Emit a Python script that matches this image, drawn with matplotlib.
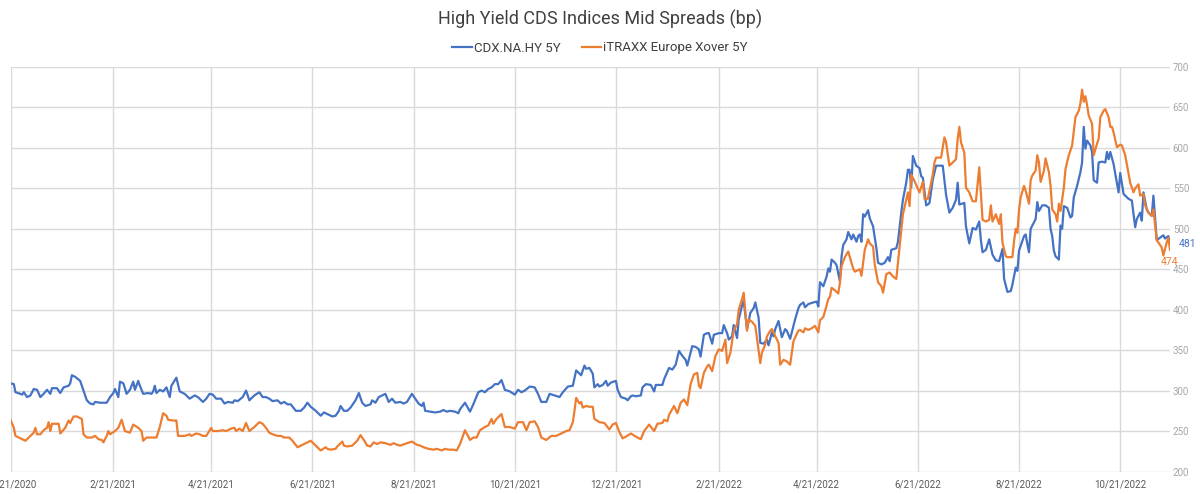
import matplotlib
matplotlib.use("Agg")
import matplotlib.pyplot as plt
import pandas as pd

# dias contados a partir de 21/12/2020
data_inicio = "2020-12-21"

dias_cdx = [
    0, 2, 3, 6, 7, 8, 10, 12, 14, 16, 18, 20, 22, 24, 25, 28, 30, 32, 35, 36, 37, 39, 42, 44, 46, 48, 50, 51, 54, 58,
    60, 62, 63, 65, 66, 68, 70, 72, 74, 75, 77, 78, 80, 83, 85, 86, 87, 88, 90, 92, 94, 96, 97, 100, 102, 105, 108, 111, 113, 116,
    118, 120, 122, 124, 127, 129, 131, 134, 135, 137, 140, 142, 144, 147, 150, 152, 154, 156, 158, 161, 163, 165, 167, 169, 172, 175, 177, 179, 181, 184,
    187, 189, 191, 194, 196, 198, 199, 201, 203, 205, 208, 210, 212, 214, 217, 218, 220, 222, 224, 226, 228, 230, 232, 235, 237, 239, 242, 244, 246, 248,
    249, 250, 253, 256, 259, 261, 263, 265, 268, 270, 271, 274, 277, 279, 282, 284, 286, 288, 290, 292, 294, 296, 298, 301, 304, 306, 308, 310, 313, 316,
    318, 320, 323, 325, 328, 331, 333, 336, 339, 341, 343, 344, 346, 347, 349, 351, 352, 354, 355, 357, 359, 360, 362, 365, 366, 368, 371, 372, 374, 375,
    377, 380, 381, 383, 386, 388, 389, 393, 394, 397, 399, 401, 403, 405, 407, 408, 411, 413, 415, 416, 418, 420, 421, 423, 424, 427, 429, 430, 432, 433,
    435, 436, 438, 439, 441, 442, 444, 446, 448, 449, 451, 452, 454, 456, 457, 459, 460, 461, 463, 465, 467, 468, 470, 472, 473, 475, 476, 478, 479, 481,
    484, 486, 487, 488, 490, 492, 493, 494, 495, 497, 498, 500, 501, 502, 504, 505, 507, 508, 510, 511, 512, 513, 514, 515, 517, 518, 520, 522, 523, 525,
    527, 529, 530, 531, 534, 535, 537, 538, 540, 541, 542, 543, 544, 546, 548, 549, 550, 552, 553, 554, 556, 558, 560, 562, 564, 566, 568, 570, 571, 572,
    575, 576, 578, 580, 582, 584, 585, 586, 588, 590, 592, 594, 596, 598, 599, 601, 603, 604, 606, 607, 608, 609, 611, 612, 613, 614, 615, 616, 618, 619,
    620, 622, 624, 626, 627, 628, 629, 630, 632, 633, 634, 635, 637, 639, 640, 641, 643, 645, 646, 647, 648, 649, 651, 652, 653, 655, 656, 658, 660, 661,
    662, 663, 665, 666, 668, 669, 671, 672, 674, 676, 678, 679, 681, 682, 683, 685, 686, 688, 689, 691, 693, 695, 696, 698, 699,
]
valores_cdx = [
    309, 308, 298, 296, 295, 298, 292, 294, 302, 301, 292, 296, 301, 296, 303, 303, 297, 304, 306, 309, 319, 317, 312, 300, 288, 284, 283, 286, 285, 285,
    292, 297, 302, 292, 311, 309, 296, 301, 311, 301, 312, 306, 296, 297, 296, 299, 306, 297, 301, 299, 304, 292, 306, 316, 299, 296, 290, 294, 292, 286,
    290, 296, 295, 290, 290, 284, 286, 285, 288, 287, 292, 300, 288, 294, 298, 292, 292, 290, 287, 288, 284, 286, 283, 283, 275, 275, 279, 285, 280, 275,
    269, 273, 271, 268, 269, 275, 281, 275, 275, 279, 288, 297, 285, 281, 283, 288, 285, 292, 294, 296, 286, 290, 285, 286, 284, 286, 296, 290, 284, 281,
    285, 275, 274, 273, 274, 276, 274, 275, 274, 272, 277, 285, 274, 283, 298, 300, 298, 302, 304, 308, 308, 313, 301, 299, 295, 301, 298, 300, 305, 304,
    296, 286, 286, 296, 294, 292, 298, 305, 306, 325, 321, 319, 331, 327, 328, 321, 304, 308, 305, 307, 312, 306, 310, 312, 301, 292, 290, 288, 293, 294,
    293, 294, 304, 308, 307, 299, 307, 307, 314, 328, 326, 332, 349, 343, 338, 331, 355, 354, 351, 342, 369, 371, 371, 358, 369, 371, 371, 381, 371, 363,
    367, 381, 365, 388, 405, 411, 376, 396, 402, 409, 390, 359, 358, 363, 356, 372, 367, 376, 386, 366, 376, 374, 364, 380, 388, 402, 406, 409, 403, 407,
    409, 410, 404, 434, 429, 441, 451, 447, 462, 458, 455, 435, 466, 480, 487, 496, 487, 493, 484, 491, 493, 484, 518, 515, 523, 513, 503, 476, 458, 456,
    458, 465, 460, 474, 476, 484, 520, 536, 557, 573, 573, 551, 590, 578, 575, 565, 563, 529, 530, 532, 561, 578, 578, 578, 542, 520, 526, 536, 557, 530,
    532, 503, 482, 501, 499, 509, 486, 471, 474, 487, 468, 461, 460, 475, 438, 422, 423, 431, 452, 448, 473, 479, 491, 493, 481, 471, 500, 504, 512, 533,
    522, 529, 529, 526, 500, 491, 473, 466, 462, 504, 500, 528, 526, 514, 516, 539, 553, 570, 582, 626, 599, 609, 603, 595, 560, 557, 582, 583, 582, 595,
    586, 595, 580, 568, 545, 569, 543, 541, 537, 535, 502, 512, 520, 510, 545, 524, 520, 516, 541, 486, 489, 492, 488, 491, 481,
]

dias_itraxx = [
    0, 2, 3, 5, 9, 12, 14, 15, 16, 18, 20, 22, 23, 24, 25, 29, 30, 33, 35, 36, 38, 40, 43, 44, 46, 49, 51, 53, 55, 56,
    58, 59, 60, 63, 65, 67, 69, 72, 74, 77, 79, 80, 82, 85, 88, 90, 92, 94, 95, 98, 100, 101, 105, 108, 109, 112, 114, 116, 118, 121,
    122, 125, 128, 130, 133, 135, 136, 138, 140, 142, 144, 147, 150, 152, 154, 156, 158, 161, 163, 165, 168, 170, 173, 175, 177, 179, 181, 183, 185, 187,
    190, 191, 193, 196, 197, 200, 201, 203, 206, 209, 211, 213, 215, 217, 219, 221, 223, 226, 229, 231, 233, 235, 239, 242, 245, 247, 249, 252, 255, 257,
    260, 262, 264, 267, 269, 271, 274, 277, 279, 281, 283, 286, 288, 290, 291, 293, 296, 298, 301, 304, 306, 309, 311, 313, 316, 318, 320, 323, 326, 329,
    332, 335, 337, 339, 340, 341, 343, 344, 345, 347, 349, 351, 352, 355, 358, 361, 363, 365, 367, 369, 371, 374, 377, 380, 382, 385, 388, 390, 393, 394,
    396, 397, 400, 402, 404, 406, 408, 410, 412, 414, 415, 416, 418, 420, 421, 423, 425, 427, 429, 431, 432, 434, 436, 438, 439, 441, 442, 444, 445, 447,
    449, 452, 453, 455, 456, 458, 459, 463, 464, 466, 468, 470, 472, 474, 475, 476, 478, 479, 481, 483, 485, 487, 488, 490, 491, 493, 494, 495, 497, 499,
    500, 501, 503, 505, 507, 508, 509, 511, 512, 513, 515, 517, 518, 520, 521, 523, 525, 526, 528, 530, 532, 534, 535, 537, 538, 539, 541, 542, 543, 545,
    546, 548, 550, 551, 553, 556, 557, 558, 561, 563, 564, 566, 568, 570, 571, 572, 573, 575, 576, 578, 580, 582, 584, 586, 588, 590, 591, 592, 594, 596,
    597, 598, 600, 601, 604, 605, 606, 607, 608, 609, 611, 612, 614, 615, 616, 618, 619, 620, 621, 623, 624, 626, 627, 628, 630, 631, 632, 633, 635, 636,
    638, 640, 642, 644, 645, 646, 647, 648, 649, 650, 652, 653, 655, 656, 657, 659, 660, 662, 663, 664, 665, 667, 669, 670, 672, 675, 677, 678, 680, 681,
    683, 684, 686, 688, 689, 691, 692, 694, 695, 697, 698, 699,
]
valores_itraxx = [
    264, 254, 244, 242, 238, 244, 248, 254, 246, 246, 251, 254, 261, 250, 259, 259, 247, 254, 263, 260, 268, 268, 265, 246, 242, 242, 244, 240, 239, 236,
    244, 250, 246, 250, 254, 264, 250, 248, 258, 254, 250, 238, 242, 242, 242, 255, 272, 269, 264, 263, 263, 244, 244, 246, 244, 247, 246, 244, 244, 254,
    250, 250, 251, 250, 253, 254, 250, 253, 250, 260, 250, 255, 261, 259, 254, 248, 246, 244, 244, 242, 242, 238, 230, 232, 234, 236, 238, 234, 230, 226,
    230, 228, 227, 228, 231, 237, 232, 231, 232, 238, 245, 239, 232, 231, 236, 234, 236, 235, 233, 235, 233, 232, 235, 237, 233, 232, 230, 228, 227, 228,
    226, 228, 227, 227, 226, 234, 251, 239, 242, 242, 251, 255, 257, 265, 259, 265, 271, 255, 255, 253, 261, 261, 251, 261, 262, 255, 242, 239, 244, 244,
    247, 250, 251, 261, 275, 291, 284, 286, 279, 281, 280, 280, 265, 261, 260, 252, 258, 260, 249, 241, 243, 247, 243, 240, 250, 258, 250, 259, 260, 264,
    262, 270, 281, 272, 285, 289, 282, 308, 320, 322, 306, 303, 322, 330, 332, 324, 343, 351, 349, 363, 334, 347, 374, 382, 400, 413, 421, 374, 388, 385,
    380, 334, 347, 357, 367, 374, 376, 359, 332, 338, 336, 332, 361, 370, 374, 375, 372, 377, 375, 377, 380, 372, 387, 391, 398, 413, 416, 427, 424, 420,
    433, 454, 465, 472, 458, 451, 447, 449, 450, 442, 474, 487, 482, 478, 456, 434, 429, 421, 444, 446, 441, 438, 458, 499, 518, 527, 545, 528, 567, 559,
    554, 545, 558, 537, 537, 567, 582, 588, 588, 613, 607, 578, 582, 586, 611, 626, 607, 594, 551, 545, 534, 534, 576, 511, 509, 511, 529, 509, 518, 506,
    518, 483, 466, 465, 465, 485, 500, 495, 524, 539, 553, 547, 531, 560, 566, 572, 591, 582, 558, 572, 587, 570, 553, 524, 518, 509, 531, 522, 551, 574,
    591, 603, 638, 646, 655, 672, 657, 664, 653, 640, 630, 591, 605, 611, 638, 646, 648, 638, 626, 626, 619, 601, 604, 603, 591, 557, 545, 550, 555, 541,
    543, 529, 520, 516, 524, 486, 483, 477, 467, 483, 489, 474,
]

datas_ticks = ["2020-12-21", "2021-02-21", "2021-04-21", "2021-06-21", "2021-08-21", "2021-10-21",
               "2021-12-21", "2022-02-21", "2022-04-21", "2022-06-21", "2022-08-21", "2022-10-21"]
ticks_y = [200, 250, 300, 350, 400, 450, 500, 550, 600, 650, 700]

AZUL = "#4472C4"
LARANJA = "#ED7D31"

plt.rcParams["font.family"] = ["Roboto", "DejaVu Sans"]


def para_datas(dias):
    return pd.Timestamp(data_inicio) + pd.to_timedelta(dias, unit="D")


def gerar_grafico():
    x_cdx = para_datas(dias_cdx)
    x_itraxx = para_datas(dias_itraxx)

    fig = plt.figure(figsize=(12, 4.94), dpi=100)
    ax = fig.add_axes([10.5 / 1200, 1 - 471.5 / 494, (1170 - 10.5) / 1200, (471.5 - 67) / 494])

    ax.plot(x_cdx, valores_cdx, color=AZUL, lw=1.6, label="CDX.NA.HY 5Y", zorder=3)
    ax.plot(x_itraxx, valores_itraxx, color=LARANJA, lw=1.6, label="iTRAXX Europe Xover 5Y", zorder=3)

    ax.set_xlim(x_cdx[0], x_cdx[-1])
    ax.set_ylim(200, 700)

    ticks_x = pd.to_datetime(datas_ticks)
    ax.set_xticks(ticks_x)
    ax.set_xticklabels([f"{d.month}/{d.day}/{d.year}" for d in ticks_x])
    ax.set_yticks(ticks_y)
    ax.yaxis.tick_right()

    ax.tick_params(axis="x", length=0, pad=6, labelsize=7, labelcolor="#595959")
    ax.tick_params(axis="y", length=0, pad=2, labelsize=7, labelcolor="#a6a6a6")
    ax.grid(True, color="#d9d9d9", lw=1)
    ax.set_axisbelow(True)
    for lado in ax.spines.values():
        lado.set_visible(False)

    # rotulos do ultimo valor
    ax.annotate(f"{valores_cdx[-1]}", (x_cdx[-1], valores_cdx[-1]), xytext=(6, 0),
                textcoords="offset points", ha="left", va="center", fontsize=7.5, color=AZUL)
    ax.annotate(f"{valores_itraxx[-1]}", (x_itraxx[-1], valores_itraxx[-1]), xytext=(0, -9),
                textcoords="offset points", ha="center", va="center", fontsize=7.5, color=LARANJA)

    fig.text(0.5, 1 - 19 / 494, "High Yield CDS Indices Mid Spreads (bp)", ha="center", va="center",
             fontsize=13, color="#404040")
    fig.legend(loc="center", bbox_to_anchor=(0.5, 1 - 48 / 494), ncol=2, frameon=False,
               fontsize=9.5, handlelength=1.5, handletextpad=0.15, columnspacing=1.6, labelcolor="#404040")

    fig.savefig("out.png", dpi=100)
    plt.close(fig)


gerar_grafico()
